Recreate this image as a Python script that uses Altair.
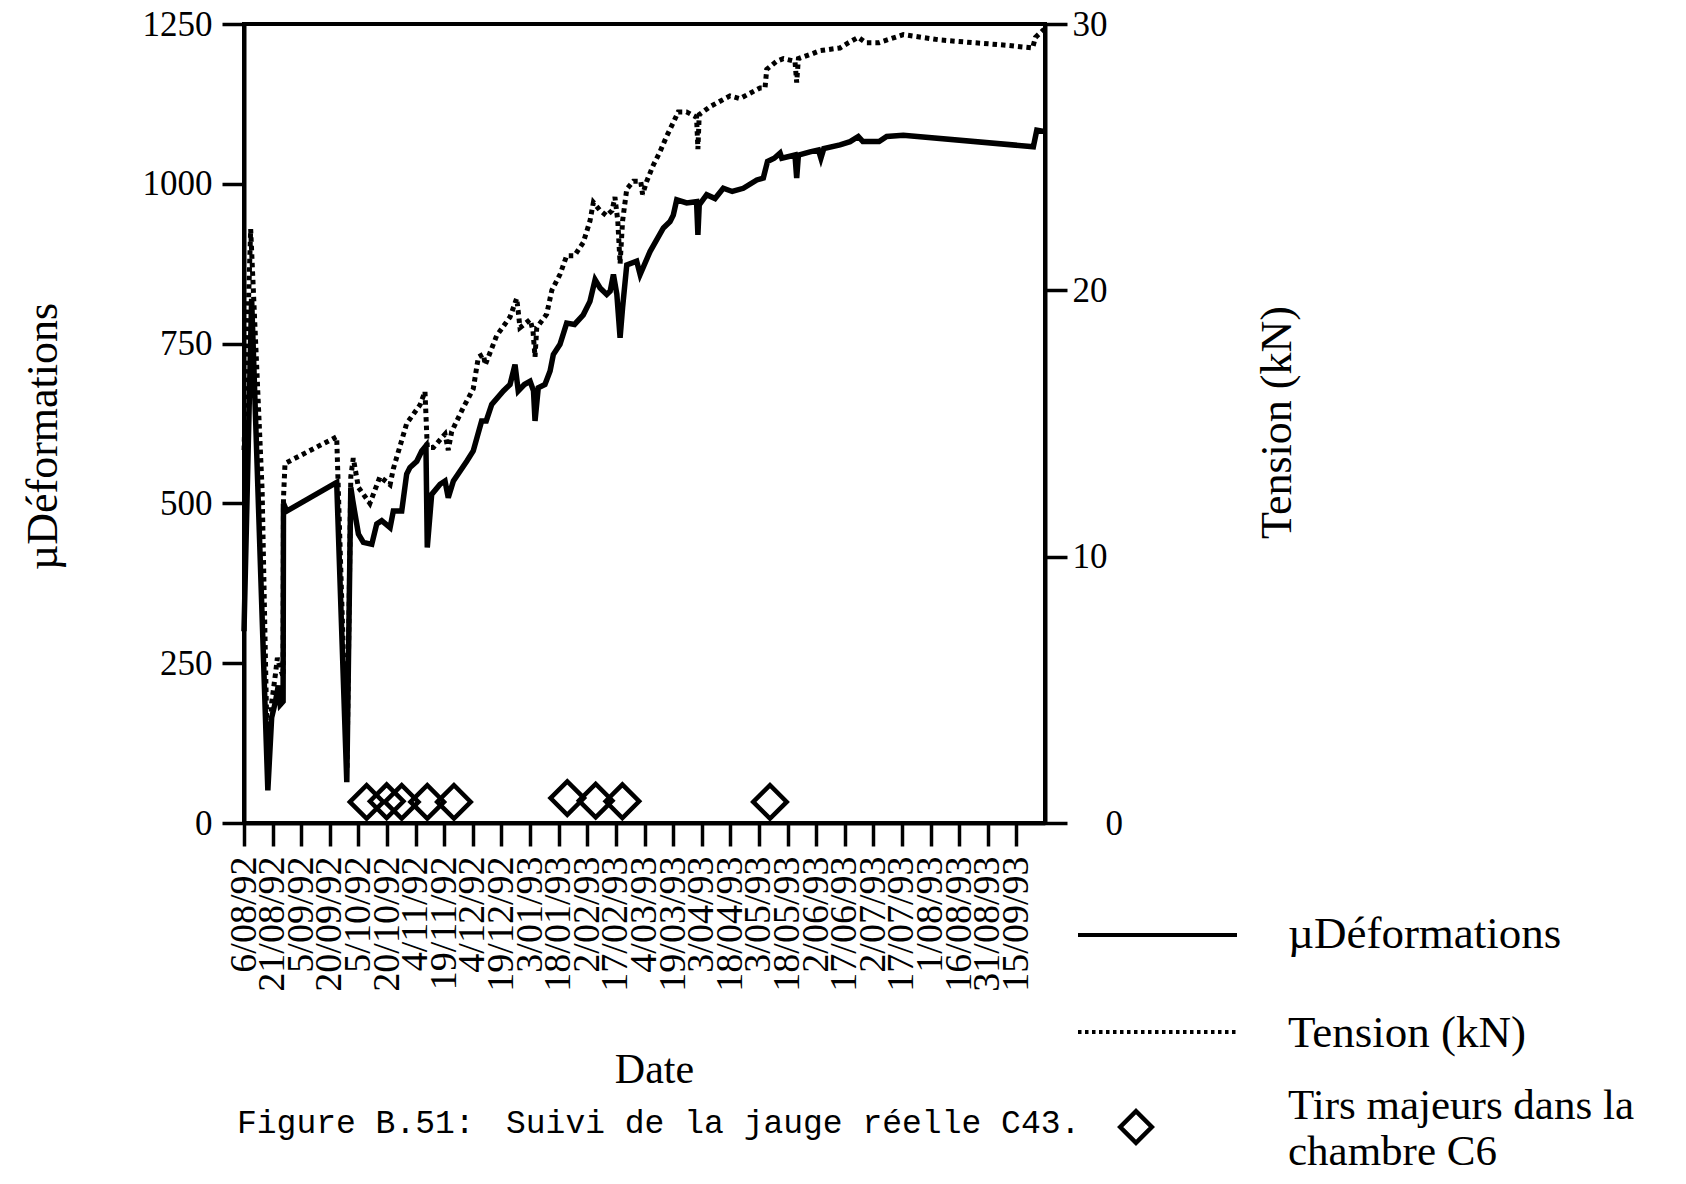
import altair as alt
import pandas as pd

# ---- data (days since 6/08/92) ----
tick_days = [0, 15, 30, 45, 60, 75, 90, 105, 120, 135, 150, 165, 180, 195,
             210, 225, 240, 255, 270, 285, 300, 315, 330, 345, 360, 375, 390, 405]
tick_labels = ["6/08/92", "21/08/92", "5/09/92", "20/09/92", "5/10/92", "20/10/92",
               "4/11/92", "19/11/92", "4/12/92", "19/12/92", "3/01/93", "18/01/93",
               "2/02/93", "17/02/93", "4/03/93", "19/03/93", "3/04/93", "18/04/93",
               "3/05/93", "18/05/93", "2/06/93", "17/06/93", "2/07/93", "17/07/93",
               "1/08/93", "16/08/93", "31/08/93", "15/09/93"]

strain_days = [0, 4, 12.5, 14.5, 16.5, 18, 19, 20.5, 20.7, 22.4, 48.6, 53.9, 56.0, 57.0,
               60, 62.6, 67, 69.6, 72.2, 76.6, 78.3, 82.7, 85.3, 87, 90.6, 93.2, 95.4,
               96.1, 98.4, 102.8, 105.4, 107.1, 109.8, 116.8, 120.2, 124.6, 127, 129.9,
               136, 139.5, 142.1, 143.8, 147, 150, 151.8, 152.6, 154.3, 157.8, 160.5,
               162.2, 165.7, 169.2, 173.3, 177.9, 181.4, 184.1, 186.7, 190.2, 192, 193.7,
               195.5, 197.2, 198.5, 200.7, 205.9, 207.7, 212.9, 219.9, 223.4, 225.1,
               226.9, 232.1, 237.3, 238, 238.7, 242.6, 247, 251.3, 256, 261.8, 268.9,
               272.3, 274.5, 278, 281.1, 282, 288.9, 289.8, 290.7, 296.8, 301.2, 302.5,
               304, 312.5, 317.8, 322.1, 324.5, 333, 337, 345.7, 413.9, 415.7, 419.5]
strain_vals = [300, 820, 51, 165, 190, 215, 185, 190, 500, 488, 533, 64, 525, 505,
               452, 439, 436, 468, 473, 462, 488, 488, 546, 556, 566, 582, 590,
               431, 514, 530, 535, 509, 535, 566, 582, 629, 629, 655,
               676, 686, 717, 676, 686, 691, 676, 629, 681, 686, 707,
               733, 749, 782, 780, 795, 816, 850, 837, 827, 832, 858,
               827, 759, 806, 873, 879, 858, 894, 931, 941, 951,
               975, 970, 972, 920, 967, 983, 977, 993, 988, 993, 1006,
               1009, 1035, 1040, 1048, 1040, 1045, 1009, 1045, 1050, 1053, 1040,
               1055, 1061, 1066, 1074, 1066, 1066, 1074, 1076, 1058, 1084, 1082]

tension_days = [0, 3.5, 9.5, 12.5, 14.5, 16.5, 17.5, 19, 20.5, 20.7, 21.5, 48.6, 54, 56,
                57.3, 60, 66, 71.3, 76.6, 78.3, 85.3, 92.3, 94.9, 96.1, 99.3, 105.4,
                107.1, 108.9, 115, 120.2, 122.9, 125.5, 126.5, 132.5, 139.5, 143,
                143.8, 144.7, 150, 151.5, 152.6, 153.5, 158.7, 161.4, 165.7, 169.2,
                173.3, 177.9, 181.4, 183.2, 186.7, 190.2, 193, 194.5, 196, 197.2,
                198.5, 200.7, 204.2, 208, 209, 211.2, 214.6, 218.1, 221.7, 225.1,
                227.7, 232, 237.3, 238, 238.7, 244.4, 249.6, 254.8, 260, 265.3,
                270.6, 273.2, 274.1, 279.3, 282.8, 288.9, 289.8, 290.7, 298.5, 302,
                312.5, 317, 322.1, 326, 333, 345.7, 365, 382.4, 400, 413.5, 415, 419.5]
tension_vals = [14, 22.3, 12.5, 1.6, 4.5, 5.6, 6.2, 5.8, 5.5, 12.2, 13.5, 14.5, 2.0, 13.0,
                13.7, 12.6, 12.0, 13.0, 12.7, 13.3, 15.0, 15.7, 16.2, 14.1, 14.1, 14.6,
                14.0, 14.7, 15.6, 16.3, 17.5, 17.6, 17.2, 18.3, 19.0, 19.7,
                19.2, 18.6, 18.9, 18.5, 17.5, 18.6, 19.1, 20.0, 20.6, 21.3,
                21.3, 21.8, 22.6, 23.3, 23.0, 22.8, 23.0, 23.5, 22.6, 21.0,
                22.6, 23.8, 24.1, 24.1, 23.6, 24.1, 24.7, 25.2, 25.8, 26.3,
                26.7, 26.7, 26.5, 25.3, 26.6, 26.9, 27.1, 27.3, 27.2, 27.4,
                27.6, 27.6, 28.3, 28.6, 28.7, 28.6, 27.8, 28.7, 28.9, 29.0,
                29.1, 29.3, 29.5, 29.3, 29.3, 29.6, 29.4, 29.3, 29.2, 29.1, 29.5, 29.8]

blast_days = [64.3, 74.8, 82.7, 96.1, 110.1, 169.5, 184.4, 198.4, 275.8]
blast_vals = [33, 34, 33, 33, 33, 39, 35, 34, 33]

legend_labels = ["\u00b5Déformations", "Tension (kN)", "Tirs majeurs dans la", "chambre C6"]
caption_parts = ["Figure B.51:", "Suivi de la jauge réelle C43."]

df_s = pd.DataFrame({"jour": strain_days, "val": strain_vals, "ordre": range(len(strain_days))})
df_t = pd.DataFrame({"jour": tension_days, "kn": tension_vals, "ordre": range(len(tension_days))})
df_b = pd.DataFrame({"jour": blast_days, "val": blast_vals})
one = pd.DataFrame({"k": [0]})

label_js = "[" + ",".join("'%s'" % s for s in tick_labels) + "]"

SERIF = "Liberation Serif"
H = 799  # plot height (px)

x_enc = alt.X(
    "jour:Q",
    scale=alt.Scale(domain=[0, 420], nice=False, zero=False),
    axis=alt.Axis(
        values=tick_days, labelExpr=label_js + "[round(datum.value/15)]",
        title="Date", labelAngle=270, labelFontSize=38, labelPadding=10,
        tickSize=23, titleFontSize=42, titleX=410, titleY=259,
        titleBaseline="alphabetic", labelFlush=False, labelOverlap=False,
    ),
)

solid = alt.Chart(df_s).mark_line(color="black", strokeWidth=5.5).encode(
    x=x_enc,
    y=alt.Y("val:Q", scale=alt.Scale(domain=[0, 1250], nice=False),
            axis=alt.Axis(values=[0, 250, 500, 750, 1000, 1250], orient="left",
                          format="d",
                          title="\u00b5Déformations", titleFontSize=44,
                          labelFontSize=35, labelPadding=10, tickSize=22,
                          titleAngle=270, titleX=-201, titleY=412,
                          titleBaseline="middle", titleAlign="center",
                          labelFlush=False)),
    order="ordre:Q",
)

dotted = alt.Chart(df_t).mark_line(color="black", strokeWidth=5,
                                   strokeDash=[4.5, 4], strokeCap="butt").encode(
    x=x_enc,
    y=alt.Y("kn:Q", scale=alt.Scale(domain=[0, 30], nice=False),
            axis=alt.Axis(values=[0, 10, 20, 30], orient="right",
                          title="Tension (kN)", titleFontSize=44,
                          labelFontSize=35, tickSize=22,
                          labelPadding={"condition": {"test": "datum.value == 0", "value": 38},
                                        "value": 5},
                          titleAngle=270, titleX=232, titleY=398,
                          titleBaseline="middle", titleAlign="center",
                          labelFlush=False)),
    order="ordre:Q",
)

blasts = alt.Chart(df_b).mark_point(shape="diamond", filled=False, color="black",
                                    strokeWidth=4.5, size=1120, opacity=1).encode(
    x=x_enc,
    y=alt.Y("val:Q", scale=alt.Scale(domain=[0, 1250], nice=False), axis=None),
)

# ---- manual legend and caption (pixel positions relative to plot area) ----
leg_solid = alt.Chart(one).mark_rule(color="black", strokeWidth=4).encode(
    x=alt.value(834), x2=alt.value(993), y=alt.value(911))
leg_dot = alt.Chart(one).mark_rule(color="black", strokeWidth=4,
                                   strokeDash=[3.5, 3.5]).encode(
    x=alt.value(834), x2=alt.value(993), y=alt.value(1008))
leg_dia = alt.Chart(one).mark_point(shape="diamond", filled=False, color="black",
                                    strokeWidth=4.5, size=1000, opacity=1).encode(
    x=alt.value(892), y=alt.value(1103))

def txt(s, x, y, size=45, font=SERIF):
    return alt.Chart(one).mark_text(text=s, font=font, fontSize=size, align="left",
                                    baseline="alphabetic", color="black").encode(
        x=alt.value(x), y=alt.value(y))

texts = [
    txt(legend_labels[0], 1044, 924),
    txt(legend_labels[1], 1044, 1023),
    txt(legend_labels[2], 1044, 1095, size=43),
    txt(legend_labels[3], 1044, 1141, size=43),
    txt(caption_parts[0], -7, 1109, size=33, font="Liberation Mono"),
    txt(caption_parts[1], 262, 1109, size=33, font="Liberation Mono"),
]

chart = alt.layer(solid, dotted, blasts, leg_solid, leg_dot, leg_dia, *texts).resolve_scale(
    y="independent"
).properties(
    width=801, height=H,
    autosize=alt.AutoSizeParams(type="none"),
    padding={"left": 236, "top": 16, "right": 630, "bottom": 353},
).configure_view(
    stroke="black", strokeWidth=4
).configure_axis(
    labelFont=SERIF, titleFont=SERIF, titleFontWeight="normal",
    labelColor="black", titleColor="black", domainColor="black",
    tickColor="black", domainWidth=4, tickWidth=3.5, grid=False,
)

chart.save("out.html", embed_options={"renderer": "svg", "actions": False})
